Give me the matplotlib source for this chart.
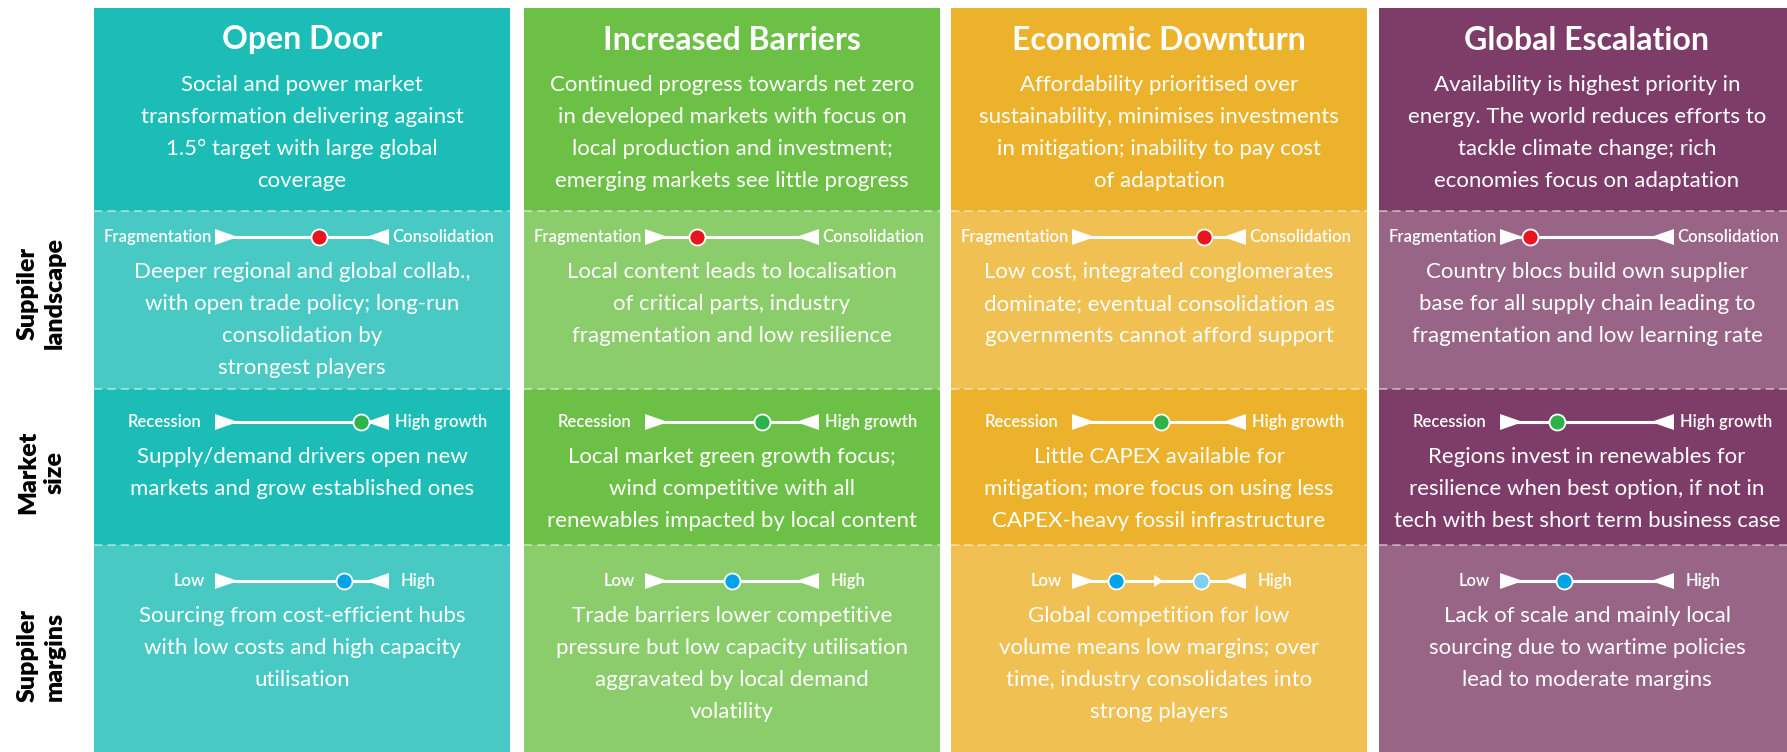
import matplotlib.pyplot as plt
from matplotlib.patches import Rectangle, Polygon

plt.rcParams['font.family'] = ['Lato', 'DejaVu Sans']

W, H = 1787, 752

scenarios = ["Open Door", "Increased Barriers", "Economic Downturn", "Global Escalation"]
dark = ["#1bbdb6", "#6cc046", "#edb22b", "#7e3d69"]
light = ["#48c9c3", "#8bcc6b", "#f0c052", "#996587"]

summaries = [
    "Social and power market\ntransformation delivering against\n1.5\u00b0 target with large global\ncoverage",
    "Continued progress towards net zero\nin developed markets with focus on\nlocal production and investment;\nemerging markets see little progress",
    "Affordability prioritised over\nsustainability, minimises investments\nin mitigation; inability to pay cost\nof adaptation",
    "Availability is highest priority in\nenergy. The world reduces efforts to\ntackle climate change; rich\neconomies focus on adaptation",
]
landscape_text = [
    "Deeper regional and global collab.,\nwith open trade policy; long-run\nconsolidation by\nstrongest players",
    "Local content leads to localisation\nof critical parts, industry\nfragmentation and low resilience",
    "Low cost, integrated conglomerates\ndominate; eventual consolidation as\ngovernments cannot afford support",
    "Country blocs build own supplier\nbase for all supply chain leading to\nfragmentation and low learning rate",
]
market_text = [
    "Supply/demand drivers open new\nmarkets and grow established ones",
    "Local market green growth focus;\nwind competitive with all\nrenewables impacted by local content",
    "Little CAPEX available for\nmitigation; more focus on using less\nCAPEX-heavy fossil infrastructure",
    "Regions invest in renewables for\nresilience when best option, if not in\ntech with best short term business case",
]
margins_text = [
    "Sourcing from cost-efficient hubs\nwith low costs and high capacity\nutilisation",
    "Trade barriers lower competitive\npressure but low capacity utilisation\naggravated by local demand\nvolatility",
    "Global competition for low\nvolume means low margins; over\ntime, industry consolidates into\nstrong players",
    "Lack of scale and mainly local\nsourcing due to wartime policies\nlead to moderate margins",
]

# where the marker sits on each slider (0 = left end, 1 = right end)
landscape_pos = [0.60, 0.30, 0.76, 0.17]
market_pos = [0.84, 0.67, 0.51, 0.33]
margins_pos = [0.74, 0.50, 0.25, 0.37]
margins_later = [None, None, 0.74, None]

row_names = [("Suppiler", "landscape"), ("Market", "size"), ("Suppiler", "margins")]
row_ends = [("Fragmentation", "Consolidation"), ("Recession", "High growth"), ("Low", "High")]
row_colors = ["#e8141f", "#2db34a", "#00a3e8"]
later_color = "#80cff3"

# layout in pixels
col_left = [94, 524, 951, 1379]
col_w = 416
bands = [8, 211, 389, 545, 752]
slider_y = [237, 422, 581]
label_gap = [(3, 3), (14, 6), (10, 12)]
half = 87
line_step = 32

fig = plt.figure(figsize=(W / 100, H / 100), dpi=100)
ax = fig.add_axes([0, 0, 1, 1])
ax.set_xlim(0, W)
ax.set_ylim(H, 0)
ax.axis('off')


def body(x, y0, txt):
    for i, line in enumerate(txt.split("\n")):
        ax.text(x, y0 + i * line_step, line, color="white", fontsize=16,
                ha="center", va="center", zorder=6)


def slider(cx, y, pos, color, ends, gap, later=None):
    x0, x1 = cx - half, cx + half
    ax.plot([x0 + 15, x1 - 15], [y, y], color="white", lw=2.2, zorder=3,
            solid_capstyle="butt")
    ax.add_patch(Polygon([(x0, y - 8), (x0, y + 8), (x0 + 23, y)],
                         closed=True, fc="white", ec="none", zorder=4))
    ax.add_patch(Polygon([(x1, y - 8), (x1, y + 8), (x1 - 23, y)],
                         closed=True, fc="white", ec="none", zorder=4))
    ax.text(x0 - gap[0], y, ends[0], color="white", fontsize=12, fontweight="semibold",
            ha="right", va="center", zorder=6)
    ax.text(x1 + gap[1], y, ends[1], color="white", fontsize=12, fontweight="semibold",
            ha="left", va="center", zorder=6)
    px = x0 + pos * (x1 - x0)
    ax.plot(px, y, "o", ms=11.5, mfc=color, mec="white", mew=1.3, zorder=5)
    if later is not None:
        qx = x0 + later * (x1 - x0)
        mx = (px + qx) / 2
        ax.add_patch(Polygon([(mx - 4, y - 6), (mx - 4, y + 6), (mx + 5, y)],
                             closed=True, fc="white", ec="none", zorder=4))
        ax.plot(qx, y, "o", ms=11.5, mfc=later_color, mec="white", mew=1.3, zorder=5)


for j in range(4):
    left = col_left[j]
    cx = left + col_w / 2
    for k in range(4):
        fc = dark[j] if k % 2 == 0 else light[j]
        ax.add_patch(Rectangle((left, bands[k]), col_w, bands[k + 1] - bands[k],
                               fc=fc, ec="none", zorder=1))
    for k in range(1, 4):
        ax.plot([left, left + col_w], [bands[k], bands[k]], color="white",
                alpha=0.55, lw=1.2, ls=(0, (5, 3)), zorder=2)

    ax.text(cx, 40, scenarios[j], color="white", fontsize=23, fontweight="bold",
            ha="center", va="center", zorder=6)
    body(cx, 85, summaries[j])

    texts = [landscape_text[j], market_text[j], margins_text[j]]
    pos = [landscape_pos[j], market_pos[j], margins_pos[j]]
    for r in range(3):
        later = margins_later[j] if r == 2 else None
        slider(cx, slider_y[r], pos[r], row_colors[r], row_ends[r], label_gap[r], later)
        body(cx, slider_y[r] + 35, texts[r])

row_mid = [293, 472, 656]
for r in range(3):
    ax.text(28, row_mid[r], row_names[r][0], rotation=90, fontsize=18,
            fontweight="heavy", color="black", ha="center", va="center")
    ax.text(55, row_mid[r], row_names[r][1], rotation=90, fontsize=18,
            fontweight="heavy", color="black", ha="center", va="center")

fig.savefig("out.png", dpi=100)
